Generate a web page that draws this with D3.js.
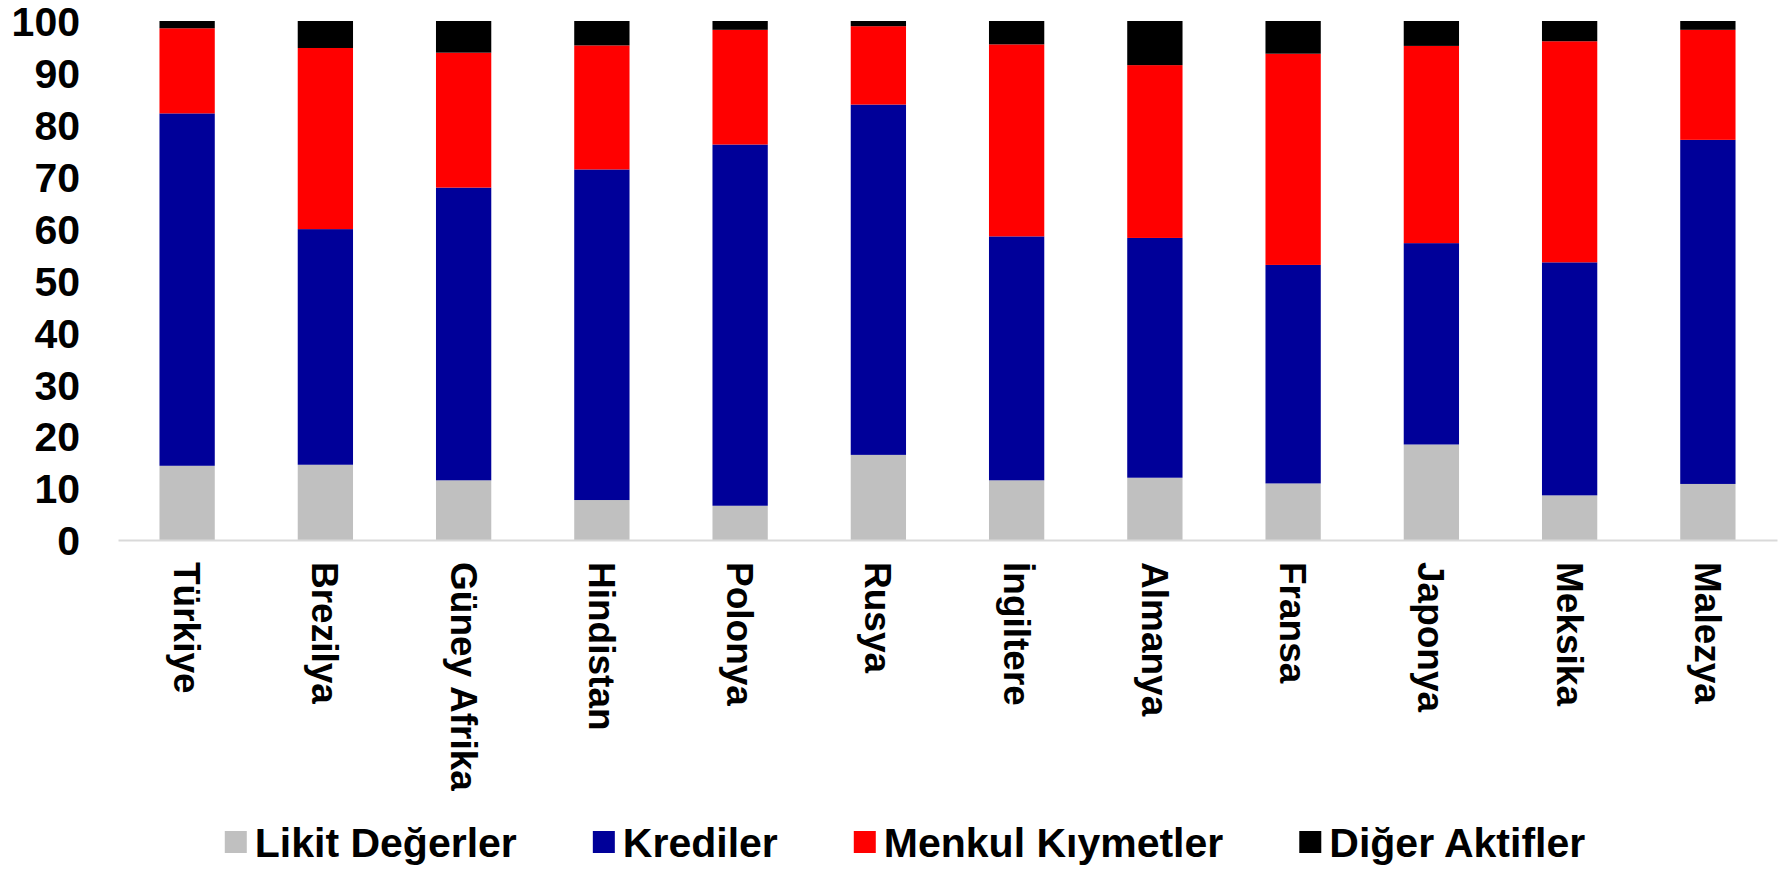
<!DOCTYPE html>
<html>
<head>
<meta charset="utf-8">
<script src="https://cdn.jsdelivr.net/npm/d3@7"></script>
<style>
  body { margin: 0; background: #fff; }
  text { font-family: "Liberation Sans", Arial, sans-serif; font-weight: bold; fill: #000; }
</style>
</head>
<body>
<script>
// values (% of total assets)
var countries = ["Türkiye", "Brezilya", "Güney Afrika", "Hindistan", "Polonya", "Rusya",
                 "İngiltere", "Almanya", "Fransa", "Japonya", "Meksika", "Malezya"];
var likit    = [14.3, 14.5, 11.5,  7.7,  6.6, 16.4, 11.5, 12.0, 10.9, 18.4,  8.6, 10.8];
var krediler = [67.9, 45.4, 56.4, 63.7, 69.6, 67.5, 47.0, 46.2, 42.1, 38.8, 44.9, 66.3];
var menkul   = [16.4, 34.9, 26.0, 23.9, 22.1, 15.1, 37.0, 33.3, 40.7, 38.0, 42.6, 21.2];
var diger    = [ 1.4,  5.2,  6.1,  4.7,  1.7,  1.0,  4.5,  8.5,  6.3,  4.8,  3.9,  1.7];
var seriesNames = ["Likit Değerler", "Krediler", "Menkul Kıymetler", "Diğer Aktifler"];
var seriesColors = ["#c0c0c0", "#000099", "#ff0000", "#000000"];
var yTicks = [0, 10, 20, 30, 40, 50, 60, 70, 80, 90, 100];

function plot_it() {
  var W = 1785, H = 870;

  var svg = d3.select("body").append("svg")
      .attr("width", W)
      .attr("height", H);

  var table = countries.map(function(c, i) {
    return {country: c, "Likit Değerler": likit[i], "Krediler": krediler[i],
            "Menkul Kıymetler": menkul[i], "Diğer Aktifler": diger[i]};
  });
  var stacked = d3.stack().keys(seriesNames)(table);

  var x = d3.scaleBand().domain(countries)
      .range([118, 1777])
      .paddingInner(0.6).paddingOuter(0.3);
  var y = d3.scaleLinear().domain([0, 100]).range([540, 21]);
  var color = d3.scaleOrdinal().domain(seriesNames).range(seriesColors);

  // bars
  svg.append("g")
    .selectAll("g")
      .data(stacked)
    .enter().append("g")
      .attr("fill", function(d) { return color(d.key); })
    .selectAll("rect")
      .data(function(d) { return d; })
    .enter().append("rect")
      .attr("x", function(d) { return x(d.data.country); })
      .attr("width", x.bandwidth())
      .attr("y", function(d) { return y(d[1]); })
      .attr("height", function(d) { return y(d[0]) - y(d[1]); });

  // y axis: labels only
  var yAxis = svg.append("g")
      .attr("transform", "translate(80,0)")
      .call(d3.axisLeft(y).tickValues(yTicks).tickSize(0).tickPadding(0));
  yAxis.select(".domain").remove();
  yAxis.selectAll("text")
      .style("font-size", "41px")
      .attr("font-family", null)
      .attr("dy", "0.36em");

  // x axis line + rotated labels
  var xAxis = svg.append("g")
      .attr("transform", "translate(0," + y(0) + ")")
      .call(d3.axisBottom(x).tickSize(0).tickPadding(0));
  xAxis.select(".domain")
      .attr("stroke", "#d9d9d9")
      .attr("stroke-width", 2);
  xAxis.selectAll("text")
      .style("font-size", "37px")
      .attr("font-family", null)
      .attr("text-anchor", "start")
      .attr("y", 0)
      .attr("x", 22)
      .attr("dy", "0.35em")
      .attr("transform", "rotate(90)");

  // legend
  var legend = svg.append("g").attr("class", "legend");
  var lx = 0, gap = 76;
  seriesNames.forEach(function(name, i) {
    var item = legend.append("g").attr("transform", "translate(" + lx + ",0)");
    item.append("rect")
        .attr("x", 0).attr("y", -11)
        .attr("width", 22).attr("height", 22)
        .attr("fill", seriesColors[i]);
    var t = item.append("text")
        .attr("x", 30)
        .attr("dy", "0.36em")
        .style("font-size", "41px")
        .text(name);
    lx += 30 + t.node().getComputedTextLength() + gap;
  });
  var legendW = lx - gap;
  legend.attr("transform", "translate(" + (905 - legendW / 2) + ",842)");
}

plot_it();
</script>
</body>
</html>
